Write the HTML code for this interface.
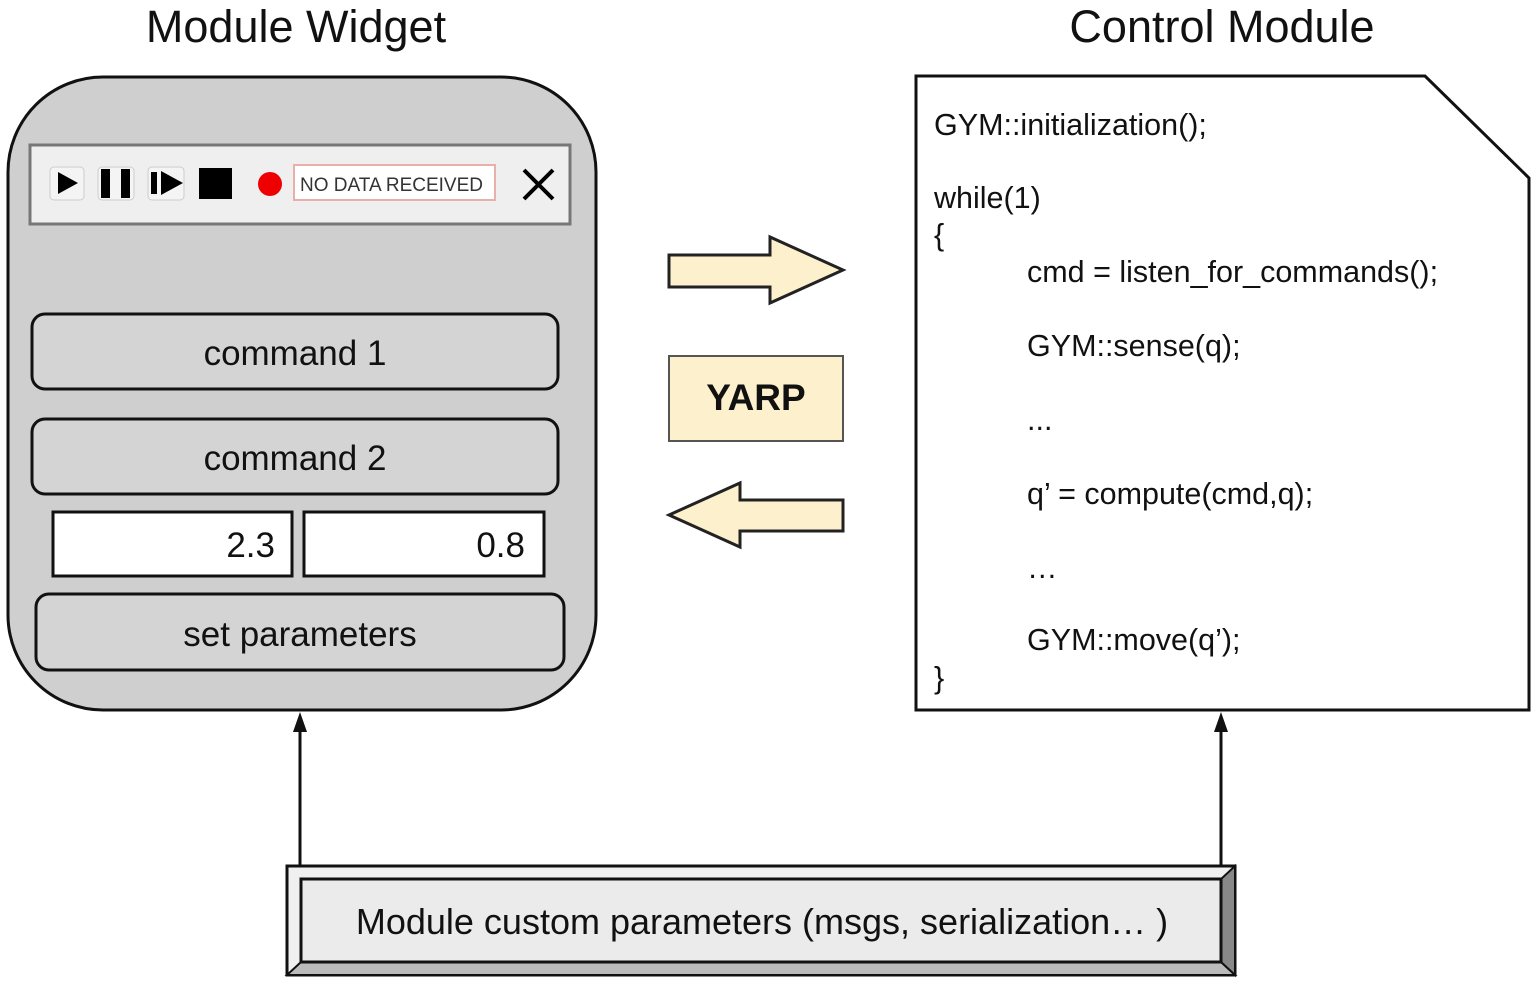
<!DOCTYPE html>
<html><head><style>body{margin:0;background:#fff}svg{display:block}text{font-family:"Liberation Sans",Arial,sans-serif}</style></head><body>
<svg width="1535" height="987" viewBox="0 0 1535 987">
<text x="296" y="42" font-size="45" text-anchor="middle" fill="#111">Module Widget</text>
<text x="1222" y="42" font-size="45" text-anchor="middle" fill="#111">Control Module</text>
<rect x="8" y="77" width="588" height="633" rx="95" fill="#cfcfcf" stroke="#111" stroke-width="3"/>
<rect x="30" y="145" width="540" height="79" fill="#efefef" stroke="#777" stroke-width="3"/>
<rect x="50" y="167" width="34" height="33" rx="4" fill="#f4f4f4" stroke="#ccc"/>
<polygon points="58,172 78,183 58,194" fill="#000"/>
<rect x="98" y="167" width="36" height="33" rx="4" fill="#f4f4f4" stroke="#ccc"/>
<rect x="101" y="169" width="9" height="29" fill="#000"/><rect x="121" y="169" width="9" height="29" fill="#000"/>
<rect x="148" y="167" width="36" height="33" rx="4" fill="#f4f4f4" stroke="#ccc"/>
<rect x="151" y="172" width="6" height="22" fill="#000"/><polygon points="161,171 183,183 161,195" fill="#000"/>
<rect x="199" y="168" width="33" height="31" fill="#000"/>
<circle cx="270" cy="184" r="12" fill="#e00"/>
<rect x="294" y="165" width="201" height="35" fill="#fff" stroke="#e8b0a8" stroke-width="2"/>
<text x="300" y="191" font-size="19" fill="#333">NO DATA RECEIVED</text>
<path d="M524,170 L553,199 M553,170 L524,199" stroke="#000" stroke-width="4"/>
<rect x="32" y="314" width="526" height="75" rx="13" fill="#d4d4d4" stroke="#111" stroke-width="3"/>
<text x="295" y="365" font-size="35" text-anchor="middle" fill="#111">command 1</text>
<rect x="32" y="419" width="526" height="75" rx="13" fill="#d4d4d4" stroke="#111" stroke-width="3"/>
<text x="295" y="470" font-size="35" text-anchor="middle" fill="#111">command 2</text>
<rect x="53" y="512" width="239" height="64" fill="#fff" stroke="#111" stroke-width="3"/>
<text x="275" y="557" font-size="35" text-anchor="end" fill="#111">2.3</text>
<rect x="304" y="512" width="240" height="64" fill="#fff" stroke="#111" stroke-width="3"/>
<text x="525" y="557" font-size="35" text-anchor="end" fill="#111">0.8</text>
<rect x="36" y="594" width="528" height="76" rx="13" fill="#d4d4d4" stroke="#111" stroke-width="3"/>
<text x="300" y="646" font-size="35" text-anchor="middle" fill="#111">set parameters</text>
<polygon points="669,255 770,255 770,237 843,270 770,303 770,287 669,287" fill="#fdf0cc" stroke="#222" stroke-width="3"/>
<rect x="669" y="356" width="174" height="85" fill="#fdf0cc" stroke="#555" stroke-width="2"/>
<text x="756" y="410" font-size="37" font-weight="bold" text-anchor="middle" fill="#111">YARP</text>
<polygon points="843,500 740,500 740,483 669,515 740,547 740,531 843,531" fill="#fdf0cc" stroke="#222" stroke-width="3"/>
<polygon points="916,76 1425,76 1529,178 1529,710 916,710" fill="#fff" stroke="#111" stroke-width="3"/>
<g font-size="30.5" fill="#111">
<text x="934" y="135">GYM::initialization();</text>
<text x="934" y="208">while(1)</text>
<text x="934" y="245">{</text>
<text x="1027" y="282">cmd = listen_for_commands();</text>
<text x="1027" y="356">GYM::sense(q);</text>
<text x="1027" y="430">...</text>
<text x="1027" y="504">q’ = compute(cmd,q);</text>
<text x="1027" y="578">…</text>
<text x="1027" y="650">GYM::move(q’);</text>
<text x="934" y="688">}</text>
</g>
<line x1="300" y1="866" x2="300" y2="730" stroke="#111" stroke-width="3"/>
<polygon points="293,732 300,712 307,732" fill="#111"/>
<line x1="1221" y1="866" x2="1221" y2="730" stroke="#111" stroke-width="3"/>
<polygon points="1214,732 1221,712 1228,732" fill="#111"/>
<rect x="287" y="866" width="948" height="109" fill="#f0f0f0" stroke="#111" stroke-width="3"/>
<polygon points="287,975 1235,975 1221,962 301,962" fill="#bbb" stroke="#111" stroke-width="2"/>
<polygon points="1235,866 1235,975 1221,962 1221,879" fill="#888" stroke="#111" stroke-width="2"/>
<rect x="301" y="879" width="920" height="83" fill="#ebebeb" stroke="#111" stroke-width="3"/>
<text x="762" y="934" font-size="36" text-anchor="middle" fill="#111">Module custom parameters (msgs, serialization… )</text>
</svg>
</body></html>
